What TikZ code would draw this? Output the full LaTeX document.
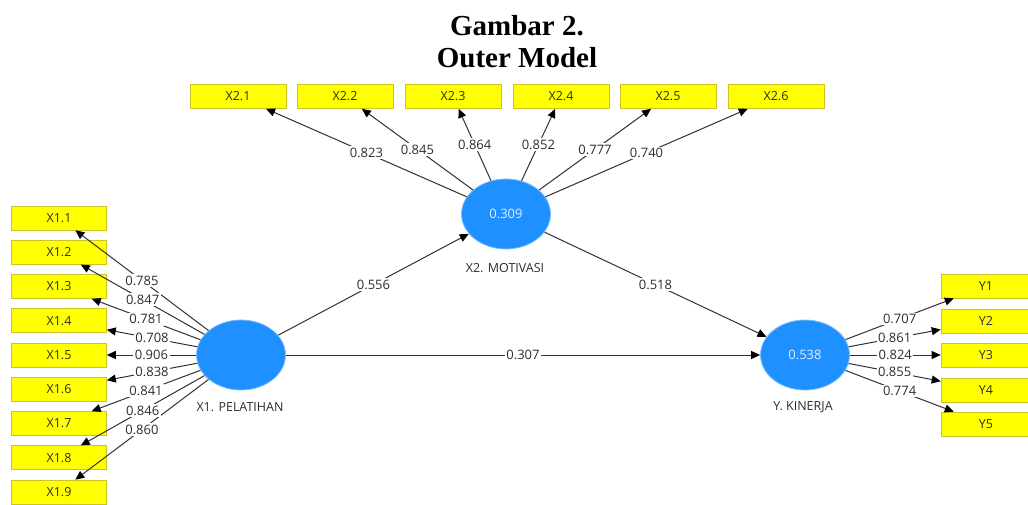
\documentclass[tikz,border=0pt]{standalone}
\usepackage{fontspec}
\setmainfont{Liberation Serif}
\newfontfamily\uifont{Open Sans}
\usetikzlibrary{shapes.geometric,arrows.meta}
\definecolor{boxyellow}{RGB}{255,255,0}
\definecolor{boxedge}{RGB}{205,195,40}
\definecolor{latentblue}{RGB}{30,144,255}
\definecolor{latentedge}{RGB}{125,190,252}
\definecolor{linegray}{RGB}{50,50,50}
\definecolor{txtgray}{RGB}{45,45,45}
\definecolor{lattext}{RGB}{225,238,255}
\begin{document}
\begin{tikzpicture}[x=1pt,y=-1pt,
  ind/.style={rectangle, fill=boxyellow, draw=boxedge, line width=0.6pt,
    minimum width=95pt, minimum height=24pt, inner sep=0pt,
    font=\uifont\fontsize{12.5}{14}\selectfont, text=txtgray},
  lat/.style={ellipse, fill=latentblue, draw=latentedge, line width=0.8pt,
    minimum width=89pt, minimum height=70pt, inner sep=0pt,
    font=\uifont\fontsize{13}{14}\selectfont, text=lattext},
  latname/.style={font=\uifont\fontsize{12.5}{14}\selectfont, text=txtgray},
  conn/.style={draw=linegray, line width=1pt, -{Triangle[length=9pt,width=8pt,color=black]}},
  lbl/.style={fill=white, inner sep=1.5pt, font=\uifont\fontsize{13}{14}\selectfont, text=txtgray},
  ttl/.style={font=\bfseries\fontsize{29}{32}\selectfont, anchor=base}]
\useasboundingbox[fill=white] (0,0) rectangle (1028,504);

% title
\node[ttl] (t1) at (517,35) {Gambar 2.};
\node[ttl] (t2) at (517,67) {Outer Model};

% latent variables
\node[lat] (X1) at (241,355) {};
\node[lat] (X2) at (506,214) {0.309};
\node[lat] (Y)  at (805,355) {0.538};
\node[latname] (nX1) at (240,407) {X1. PELATIHAN};
\node[latname] (nX2) at (505,268) {X2. MOTIVASI};
\node[latname] (nY)  at (803,407) {Y. KINERJA};

% indicators
\foreach \i in {1,...,9}
  \node[ind] (x1\i) at (59,{355+(\i-5)*34.25}) {X1.\i};
\foreach \i/\xx in {1/238,2/345,3/453,4/561,5/668,6/776}
  \node[ind, minimum width=96pt] (x2\i) at (\xx,96.5) {X2.\i};
\foreach \i/\yy in {1/286,2/321,3/355,4/390,5/424}
  \node[ind, minimum width=90pt] (y\i) at (986,\yy) {Y\i};

% connectors
\foreach \i in {1,...,9} \draw[conn] (X1) -- (x1\i);
\foreach \i in {1,...,6} \draw[conn] (X2) -- (x2\i);
\foreach \i in {1,...,5} \draw[conn] (Y) -- (y\i);
\draw[conn] (X1) -- (X2);
\draw[conn] (X2) -- (Y);
\draw[conn] (X1) -- (Y);

% labels
\foreach \i/\v in {1/0.785,2/0.847,3/0.781,4/0.708,5/0.906,6/0.838,7/0.841,8/0.846,9/0.860}
  \path (X1) -- (x1\i) node[lbl, midway] {\v};
\foreach \i/\v in {1/0.823,2/0.845,3/0.864,4/0.852,5/0.777,6/0.740}
  \path (X2) -- (x2\i) node[lbl, midway] {\v};
\foreach \i/\v in {1/0.707,2/0.861,3/0.824,4/0.855,5/0.774}
  \path (Y) -- (y\i) node[lbl, midway] {\v};
\path (X1) -- (X2) node[lbl, midway] {0.556};
\path (X2) -- (Y) node[lbl, midway] {0.518};
\path (X1) -- (Y) node[lbl, midway] {0.307};
\end{tikzpicture}
\end{document}
